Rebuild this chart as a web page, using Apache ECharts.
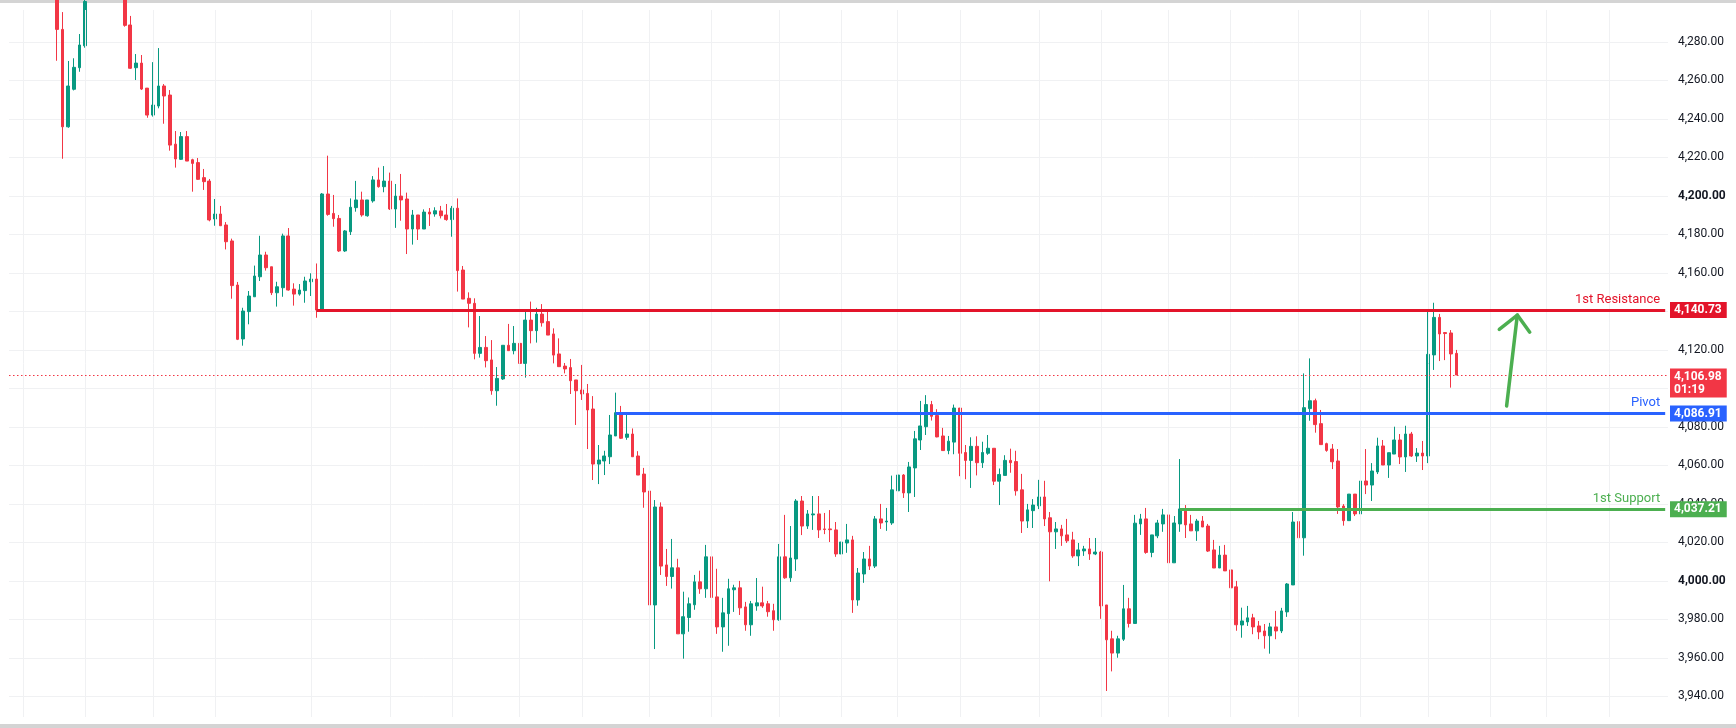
<!DOCTYPE html>
<html>
<head>
<meta charset="utf-8">
<script src="https://cdn.jsdelivr.net/npm/echarts@6/dist/echarts.min.js"></script>
<style>
html,body{margin:0;padding:0;background:#fff;}
#main{width:1736px;height:728px;}
</style>
</head>
<body>
<div id="main"></div>
<script>
// empty slots before the first candle and after the last one
var padLeft = 8;
var padRight = 37;

// candles as [open, close, low, high]
var seg1 = [
  [4302,4286.5,4270.2,4308],[4286.5,4235.9,4219.3,4295.5],[4235.9,4257.1,4235.4,4270.1],[4255.4,4266.8,4254.8,4271.5],
  [4266.6,4278.4,4264.5,4284.1],[4278.0,4301,4277.0,4306],[4301,4310,4298,4316],[4310,4318,4305,4324],
  [4318,4312,4308,4322],[4312,4315,4306,4320],[4315,4308,4303,4318],[4308,4304,4299,4312],
  [4304,4288.6,4287.9,4307],[4288.8,4266.3,4266.0,4293.5],[4266.6,4269.0,4260.2,4273.7],[4269.0,4255.5,4255.0,4273.2],
  [4256.0,4242.0,4240.6,4256.0],[4242.0,4247.2,4241.2,4269.5],[4246.7,4257.1,4245.5,4276.8],[4257.1,4251.9,4237.5,4258.1],
  [4252.4,4226.4,4223.5,4255.0],[4226.9,4219.2,4214.7,4233.7],[4219.0,4230.8,4218.7,4233.2],[4230.8,4218.1,4218.1,4233.7],
  [4218.8,4216.9,4202.2,4219.3],[4217.3,4208.6,4208.3,4219.7],[4209.5,4207.4,4203.1,4214.0],[4207.7,4187.5,4186.8,4208.8],
  [4188.0,4190.6,4184.5,4198.4],[4190.6,4184.5,4184.5,4194.8],[4184.9,4176.2,4172.2,4186.4],[4176.6,4153.4,4146.6,4177.8],
  [4153.7,4125.5,4125.1,4155.3],[4125.7,4140.2,4122.2,4141.9],[4139.9,4148.0,4133.3,4150.6],[4147.6,4158.4,4147.6,4163.8],
  [4158.0,4169.3,4155.8,4179.3],[4169.3,4162.7,4161.2,4171.0],[4163.2,4149.7,4148.5,4163.2],[4149.7,4152.8,4142.5,4155.4],
  [4152.3,4179.2,4147.6,4180.4],[4179.2,4151.1,4150.8,4183.3],[4151.6,4149.0,4143.0,4154.6],[4149.0,4151.1,4148.2,4154.2],
  [4150.8,4155.8,4144.5,4158.0],[4155.4,4156.8,4148.0,4159.8],[4156.8,4140.7,4136.7,4164.9],[4140.4,4201.0,4140.2,4201.5]
];
var seg2 = [
  [4201.0,4190.4,4189.7,4220.9],[4190.9,4188.2,4184.0,4200.5],[4188.3,4171.4,4170.9,4190.1],[4171.4,4181.8,4170.9,4182.3],
  [4181.4,4194.1,4179.7,4198.7],[4193.9,4197.9,4191.8,4207.8],[4197.9,4190.1,4189.2,4202.2],[4189.7,4197.9,4189.2,4197.9],
  [4197.4,4208.3,4196.5,4210.3],[4208.3,4204.8,4204.3,4214.7],[4204.8,4207.7,4201.9,4215.5],[4207.7,4193.2,4192.7,4212.1],
  [4193.2,4199.9,4183.4,4206.2],[4199.9,4197.9,4187.1,4211.4],[4198.4,4182.8,4169.8,4201.7],[4182.8,4190.1,4174.7,4192.7],
  [4190.1,4182.8,4177.1,4190.1],[4182.8,4191.6,4182.8,4193.0],[4191.6,4190.6,4184.4,4193.7],[4190.6,4192.3,4189.2,4194.1],
  [4192.2,4189.7,4188.3,4194.8],[4190.1,4187.7,4187.1,4195.8],[4187.7,4193.6,4178.8,4194.8],[4193.6,4161.2,4150.3,4198.7],
  [4161.5,4146.4,4146.4,4163.6],[4146.8,4144.2,4131.7,4149.9],[4144.2,4118.2,4115.1,4146.8],[4118.2,4121.3,4116.0,4137.6],
  [4121.3,4114.4,4110.9,4127.2],[4114.8,4098.8,4096.7,4125.1],[4098.8,4105.2,4091.0,4111.1],[4104.9,4122.4,4104.4,4122.4],
  [4122.4,4119.6,4119.6,4133.5],[4119.6,4123.4,4117.7,4132.4],[4123.4,4113.0,4112.2,4127.7],[4113.0,4135.5,4105.6,4140.7],
  [4135.5,4130.0,4123.4,4145.1],[4130.0,4138.6,4123.8,4141.9],[4138.6,4134.1,4132.1,4143.8],[4134.7,4127.7,4127.7,4140.4],
  [4128.3,4117.3,4113.0,4131.2],[4117.9,4111.3,4111.3,4126.0],[4111.6,4110.1,4107.8,4113.2],[4110.8,4104.0,4097.1,4115.3],
  [4104.4,4098.8,4081.0,4104.4],[4099.2,4097.1,4094.0,4112.2],[4097.4,4088.8,4068.5,4102.3],[4089.3,4060.7,4052.4,4096.0],
  [4060.7,4062.8,4050.3,4070.6],[4062.3,4064.9,4055.0,4067.6],[4064.5,4075.8,4060.7,4086.2],[4075.3,4087.4,4075.3,4097.8],
  [4087.4,4074.1,4073.7,4090.9],[4074.6,4076.3,4073.3,4087.4],[4076.3,4064.5,4064.5,4079.2],[4064.9,4055.0,4055.0,4067.4]
];
var seg3 = [
  [4055.5,4046.2,4038.0,4058.7],[4046.7,3987.5,3987.5,4049.0],[3987.5,4038.4,3964.6,4042.0],[4038.4,4007.7,4003.1,4040.8],
  [4008.3,4002.3,3997.4,4016.6],[4002.3,4006.8,3996.0,4021.8],[4006.8,3972.5,3972.5,4011.5],[3972.5,3981.4,3959.6,3994.4],
  [3981.0,3988.1,3973.6,3991.4],[3987.6,3999.5,3985.0,4003.1],[3999.5,3995.9,3993.3,4005.3],[3995.9,4012.5,3991.2,4018.7],
  [4012.5,3991.4,3978.9,4016.7],[3991.7,3976.1,3972.5,4006.3],[3976.1,3983.4,3963.2,3991.2],[3983.0,3995.9,3966.3,4001.1],
  [3995.4,3996.4,3983.9,3998.0],[3996.4,3986.0,3982.3,4000.0],[3986.5,3977.2,3974.1,3989.1],[3977.2,3988.1,3971.5,3989.6],
  [3987.0,3988.6,3984.5,4001.5],[3988.6,3987.0,3986.0,3997.0],[3988.1,3984.0,3981.4,3989.6],[3984.5,3979.8,3974.1,3988.1],
  [3979.8,4012.5,3979.3,4019.2],[4012.5,4001.6,4001.1,4034.3],[4001.6,4011.9,3999.5,4028.5],[4011.4,4041.5,4005.2,4042.5],
  [4041.5,4028.5,4023.8,4044.1],[4028.5,4034.8,4027.0,4036.8],[4034.3,4034.8,4026.5,4044.1],[4034.8,4026.5,4022.3,4044.1],
  [4027.0,4026.7,4024.3,4035.3],[4027.0,4026.6,4020.2,4036.8],[4026.5,4014.0,4012.5,4030.6],[4014.0,4020.2,4011.4,4024.3],
  [4019.7,4021.3,4014.6,4029.6],[4021.3,3990.1,3983.4,4023.4],[3990.1,4004.1,3987.1,4006.7],[4003.6,4011.4,3999.0,4015.0],
  [4011.4,4007.7,4005.7,4018.2],[4007.7,4032.2,4006.7,4033.7],[4032.2,4030.1,4027.0,4040.0],[4030.6,4031.1,4026.0,4037.9],
  [4030.1,4047.3,4029.1,4054.7],[4046.8,4055.0,4043.1,4055.0],[4055.0,4045.7,4043.1,4055.5],[4045.7,4059.2,4035.8,4061.8],
  [4058.7,4073.8,4043.6,4077.9]
];
var seg4 = [
  [4073.2,4080.5,4068.0,4093.5],[4080.1,4091.6,4075.8,4096.5],[4091.6,4085.5,4083.3,4093.5],[4085.9,4074.8,4074.6,4089.2],
  [4075.3,4067.7,4067.7,4079.5],[4067.7,4072.6,4065.8,4075.3],[4072.1,4089.8,4065.8,4091.6],[4089.8,4066.3,4054.4,4089.8],
  [4066.7,4062.6,4052.8,4070.6],[4062.6,4069.9,4048.3,4074.6],[4069.9,4061.4,4054.8,4075.1],[4061.4,4066.7,4058.7,4072.3],
  [4066.3,4068.9,4065.5,4075.8],[4068.9,4051.8,4049.8,4068.9],[4051.8,4055.3,4039.4,4058.4],[4054.8,4062.6,4054.8,4065.3],
  [4062.6,4061.4,4056.2,4068.7],[4062.0,4046.8,4044.3,4067.6],[4047.3,4031.1,4024.9,4055.6],[4031.1,4036.9,4027.5,4040.0],
  [4036.5,4039.4,4027.5,4042.5],[4039.0,4043.6,4037.3,4052.5],[4043.6,4032.2,4028.5,4052.0],[4032.8,4025.5,3999.8,4035.8],
  [4025.5,4027.0,4016.6,4030.6],[4027.0,4023.4,4018.2,4029.1],[4023.9,4020.8,4019.7,4032.2],[4021.3,4013.0,4012.0,4025.5],
  [4013.0,4016.1,4007.7,4019.7],[4015.6,4016.6,4013.0,4018.2],[4016.6,4014.0,4010.9,4022.3],[4014.0,4015.0,4013.4,4022.3],
  [4015.0,3987.0,3980.3,4015.6],[3987.5,3969.4,3942.8,3987.5],[3969.9,3962.5,3953.0,3974.1],[3962.5,3969.9,3960.1,3971.5],
  [3969.7,3985.5,3968.8,3997.9],[3985.5,3977.9,3975.8,3991.2],[3977.9,4030.0,3977.9,4034.3],[4029.6,4032.2,4023.9,4034.8],
  [4032.2,4014.8,4014.1,4037.9],[4014.8,4023.9,4012.3,4023.9],[4023.4,4030.1,4022.2,4031.7],[4029.6,4034.3,4025.5,4037.4],
  [4034.3,4009.4,4008.8,4034.8],[4009.4,4030.1,4009.4,4033.7],[4029.6,4037.4,4025.5,4063.3],[4037.4,4029.1,4022.3,4039.4]
];
var seg5 = [
  [4029.6,4026.0,4026.0,4034.3],[4026.0,4031.1,4020.8,4032.2],[4031.1,4028.0,4028.0,4033.7],[4028.5,4015.5,4015.0,4029.6],
  [4016.1,4006.7,4006.7,4021.3],[4006.7,4013.4,4006.7,4018.2],[4013.4,4005.2,4005.2,4018.7],[4005.7,3996.4,3993.3,4009.9],
  [3996.9,3977.2,3974.1,4000.0],[3977.1,3979.2,3970.5,3986.1],[3978.7,3980.8,3976.6,3987.0],[3980.8,3976.1,3972.3,3982.9],
  [3976.6,3973.5,3969.7,3979.2],[3974.0,3971.5,3964.8,3977.6],[3971.5,3976.1,3962.2,3978.2],[3976.1,3974.0,3969.7,3984.4],
  [3974.0,3984.4,3972.9,3986.0],[3983.9,3998.4,3981.3,3998.9],[3997.9,4030.6,3997.9,4035.8],[4030.8,4022.4,4019.9,4034.2],
  [4022.4,4090.0,4013.1,4107.8],[4089.5,4093.6,4083.2,4115.6],[4093.6,4081.2,4077.0,4094.7],[4081.7,4070.8,4070.8,4088.8],
  [4071.3,4067.8,4067.1,4071.8],[4068.5,4061.9,4058.1,4071.1],[4062.3,4038.4,4034.8,4068.5],[4038.9,4031.3,4028.7,4039.9],
  [4031.3,4045.1,4031.3,4045.1],[4045.1,4034.8,4033.7,4045.1],[4034.8,4051.9,4030.8,4053.0],[4051.9,4049.8,4045.1,4068.5],
  [4049.8,4057.1,4041.5,4061.2],[4056.6,4070.1,4055.5,4074.4],[4070.1,4060.2,4060.2,4073.2],[4060.2,4066.6,4053.5,4066.6],
  [4065.9,4073.2,4065.9,4080.1],[4073.2,4064.4,4060.7,4076.3],[4064.4,4076.3,4056.6,4080.6],[4076.3,4064.9,4064.4,4077.4],
  [4064.9,4066.4,4061.8,4069.0],[4066.4,4064.9,4057.6,4072.7],[4064.9,4117.7,4061.2,4140.7],[4117.4,4136.9,4109.6,4144.5],
  [4136.9,4128.3,4114.2,4138.7],[4129.0,4128.5,4114.7,4129.3],[4128.8,4117.9,4100.4,4130.3],[4118.2,4106.98,4106.98,4120.0]
];

// horizontal levels: name, price, first candle (1-based), colour
var levelNames  = ['1st Resistance', 'Pivot', '1st Support'];
var levelPrices = [4140.73, 4086.91, 4037.21];
var levelStart  = [47, 100, 200];
var levelColors = ['#e3142a', '#2962ff', '#4caf50'];

var lastPrice = 4106.98;
var countdown = '01:19';

// price scale ticks, bold ones, and vertical time grid (category slots)
var yTicks = [3940,3960,3980,4000,4020,4040,4060,4080,4100,4120,4140,4160,4180,4200,4220,4240,4260,4280];
var boldTicks = [4000, 4200];
var timeGrid = [2,13,25,36,53,67,78,90,101,113,124,136,147,157,168,182,193,205,216,228,239,251,262,272,283];

// hand-drawn arrow, [slot, price]
var arrowShaft = [[264.9, 4090.9], [266.8, 4138.1]];
var arrowHead  = [[263.6, 4130.7], [266.8, 4138.1], [269.0, 4129.2]];

var candles = seg1.concat(seg2, seg3, seg4, seg5);
var total = padLeft + candles.length + padRight;
var cats = [];
for (var i = 0; i < total; i++) cats.push('s' + i);
var candleData = candles.map(function (c, k) { return [padLeft + k, c[0], c[1], c[2], c[3]]; });

function fmt(v) {
  return v.toLocaleString('en-US', {minimumFractionDigits: 2, maximumFractionDigits: 2});
}

var levelLines = [];
for (var j = 0; j < levelNames.length; j++) {
  levelLines.push([
    {coord: [padLeft + levelStart[j] - 1, levelPrices[j]],
     lineStyle: {color: levelColors[j], width: 3, type: 'solid'},
     label: {show: true, position: 'insideEndTop', formatter: levelNames[j], color: levelColors[j],
             fontSize: 13, fontFamily: 'Roboto', distance: [5, 4]}},
    {coord: [total - 1, levelPrices[j]]}
  ]);
}
// current price dotted line
levelLines.push({yAxis: lastPrice, lineStyle: {color: '#f23645', width: 1, type: [1.5, 2.5]}, label: {show: false}});
// axis boxes (carrier lines are invisible)
for (var j = 0; j < levelNames.length; j++) {
  levelLines.push({yAxis: levelPrices[j], lineStyle: {color: 'rgba(0,0,0,0)', width: 0},
    label: {show: true, position: 'end', distance: 2, formatter: fmt(levelPrices[j]),
            backgroundColor: levelColors[j], color: '#fff', fontSize: 12, fontWeight: 'bold',
            fontFamily: 'Roboto', lineHeight: 12, padding: [2, 5, 2, 4]}});
}
// price box sits a bit lower than the line, like the terminal does
levelLines.push({yAxis: lastPrice - 4.2, lineStyle: {color: 'rgba(0,0,0,0)', width: 0},
  label: {show: true, position: 'end', distance: 2, formatter: fmt(lastPrice) + '\n' + countdown,
          backgroundColor: '#f23645', color: '#fff', fontSize: 12, fontWeight: 'bold',
          fontFamily: 'Roboto', lineHeight: 13, padding: [2, 5, 1, 4], align: 'left'}});

var dom = document.getElementById('main');
var myChart = echarts.init(dom);
var option = {
  animation: false,
  backgroundColor: '#ffffff',
  grid: {left: 9, right: 68, top: 10, bottom: 11},
  xAxis: {
    type: 'category',
    data: cats,
    boundaryGap: true,
    axisLine: {show: false},
    axisTick: {show: false},
    axisLabel: {show: false},
    splitLine: {show: false}
  },
  yAxis: {
    type: 'value',
    position: 'right',
    min: 3929.3,
    max: 4296.58,
    splitNumber: 18,
    minInterval: 20,
    maxInterval: 20,
    axisLine: {show: false},
    axisTick: {show: false},
    splitLine: {show: true, showMinLine: false, showMaxLine: false, lineStyle: {color: '#f0f1f3', width: 1}},
    axisLabel: {
      margin: 10,
      color: '#131722',
      fontSize: 12,
      fontFamily: 'Roboto',
      showMinLabel: false,
      showMaxLabel: false,
      formatter: function (v) {
        if (yTicks.indexOf(Math.round(v)) < 0 || Math.abs(v - Math.round(v)) > 0.01) return '';
        var s = fmt(v);
        return boldTicks.indexOf(Math.round(v)) >= 0 ? '{b|' + s + '}' : s;
      },
      rich: {b: {fontWeight: 'bold', fontSize: 12, fontFamily: 'Roboto', color: '#131722'}}
    }
  },
  series: [
    {
      type: 'line',
      data: [],
      z: 1,
      silent: true,
      markLine: {
        silent: true,
        symbol: ['none', 'none'],
        animation: false,
        label: {show: false},
        lineStyle: {color: '#f0f1f3', width: 1, type: 'solid'},
        data: timeGrid.map(function (s) { return {xAxis: s}; })
      }
    },
    {
      type: 'candlestick',
      z: 3,
      silent: true,
      clip: true,
      barWidth: 3.2,
      data: candleData,
      encode: {x: 0, y: [1, 2, 3, 4]},
      itemStyle: {
        color: '#089981', color0: '#f23645',
        borderColor: '#089981', borderColor0: '#f23645',
        borderWidth: 1
      },
      markLine: {
        silent: true,
        symbol: ['none', 'none'],
        animation: false,
        data: levelLines
      }
    }
  ]
};
myChart.setOption(option, true);

function toPx(p) {
  var i0 = Math.floor(p[0]);
  var a = myChart.convertToPixel({gridIndex: 0}, [i0, p[1]]);
  var b = myChart.convertToPixel({gridIndex: 0}, [i0 + 1, p[1]]);
  return [a[0] + (b[0] - a[0]) * (p[0] - i0), a[1]];
}

myChart.setOption({
  graphic: [
    {type: 'rect', shape: {x: 0, y: 0, width: 1736, height: 3}, style: {fill: '#d4d4d4'}, silent: true},
    {type: 'rect', shape: {x: 0, y: 724, width: 1736, height: 4}, style: {fill: '#d4d4d4'}, silent: true},
    {type: 'polyline', shape: {points: arrowShaft.map(toPx)}, z: 10,
     style: {stroke: '#4caf50', lineWidth: 3.5, lineCap: 'round', lineJoin: 'round', fill: null}},
    {type: 'polyline', shape: {points: arrowHead.map(toPx)}, z: 10,
     style: {stroke: '#4caf50', lineWidth: 3.5, lineCap: 'round', lineJoin: 'round', fill: null}}
  ]
});
</script>
</body>
</html>
